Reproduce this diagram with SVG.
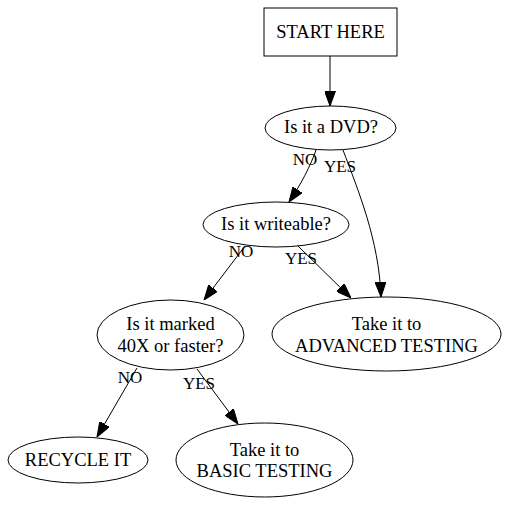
<svg xmlns="http://www.w3.org/2000/svg" width="510" height="506" viewBox="0 0 510 506">
<defs>
<style>
.n{fill:#fff;stroke:#000;stroke-width:1}
.t{font-family:"Liberation Serif","Times New Roman",serif;font-size:18.5px;text-anchor:middle;fill:#000}
.l{font-family:"Liberation Serif","Times New Roman",serif;font-size:17px;text-anchor:middle;fill:#000}
.e{fill:none;stroke:#000;stroke-width:1;marker-end:url(#ah)}
</style>
<marker id="ah" markerUnits="userSpaceOnUse" markerWidth="15" markerHeight="11" refX="15" refY="5.5" orient="auto">
<path d="M0,0 L15,5.5 L0,11 z" fill="#000" stroke="#000" stroke-width="1"/>
</marker>
</defs>
<rect width="510" height="506" fill="#fff"/>
<g id="edges">
<path class="e" d="M330,56 L330,106"/>
<path class="e" d="M316,150 C311,165 300,186 289,202"/>
<path class="e" d="M343,150 C358,190 379,240 381,297"/>
<path class="e" d="M245,246 L204,300"/>
<path class="e" d="M298,246 L351,298"/>
<path class="e" d="M137,368 L97,437"/>
<path class="e" d="M197,369 L238,424"/>
<text class="l" x="305" y="165">NO</text>
<text class="l" x="340" y="172">YES</text>
<text class="l" x="241" y="257">NO</text>
<text class="l" x="301" y="264">YES</text>
<text class="l" x="130" y="383">NO</text>
<text class="l" x="199" y="389">YES</text>
</g>
<g id="start">
<rect class="n" x="264" y="8" width="133" height="48"/>
<text class="t" x="330.5" y="38">START HERE</text>
</g>
<g id="dvd">
<ellipse class="n" cx="330.5" cy="128" rx="65.5" ry="22"/>
<text class="t" x="331" y="133">Is it a DVD?</text>
</g>
<g id="writeable">
<ellipse class="n" cx="276" cy="224.5" rx="73" ry="22.5"/>
<text class="t" x="276" y="230">Is it writeable?</text>
</g>
<g id="marked">
<ellipse class="n" cx="170.5" cy="335" rx="73.5" ry="35"/>
<text class="t" x="170.5" y="330">Is it marked</text>
<text class="t" x="170.5" y="352">40X or faster?</text>
</g>
<g id="advanced">
<ellipse class="n" cx="386.5" cy="334" rx="114.5" ry="37"/>
<text class="t" x="386.5" y="330">Take it to</text>
<text class="t" x="386.5" y="352">ADVANCED TESTING</text>
</g>
<g id="recycle">
<ellipse class="n" cx="78" cy="460" rx="70" ry="23"/>
<text class="t" x="78" y="466">RECYCLE IT</text>
</g>
<g id="basic">
<ellipse class="n" cx="264.5" cy="460" rx="88.5" ry="37"/>
<text class="t" x="264.5" y="456">Take it to</text>
<text class="t" x="264.5" y="477">BASIC TESTING</text>
</g>
</svg>
